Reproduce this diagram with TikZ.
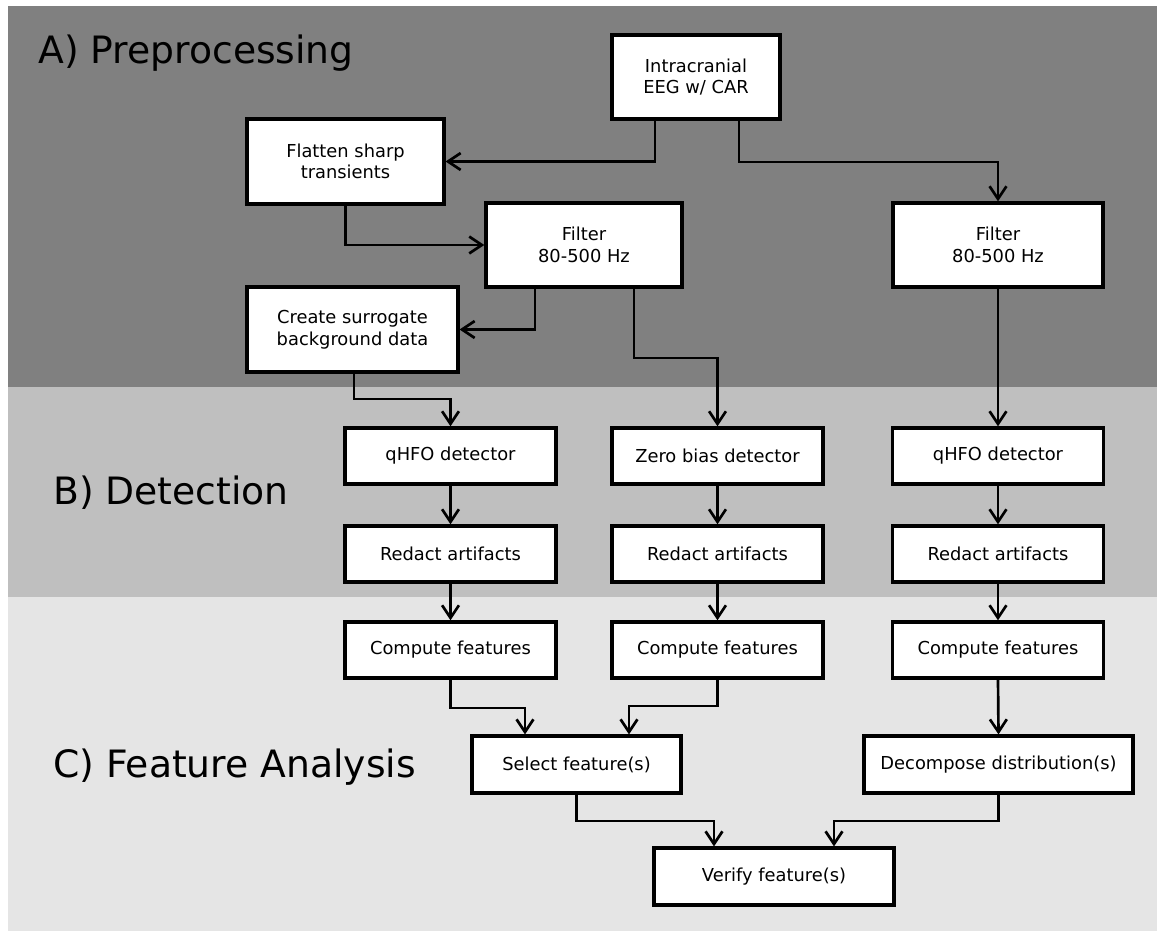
\documentclass[tikz,border=0pt]{standalone}
\usepackage{fontspec}
\setmainfont{DejaVu Sans}
\usepackage{xcolor}
\usepackage{tikz}
\definecolor{bandA}{RGB}{128, 128, 128}
\definecolor{bandB}{RGB}{191, 191, 191}
\definecolor{bandC}{RGB}{229, 229, 229}
\usetikzlibrary{arrows.meta, positioning, calc}

\begin{document}
\begin{tikzpicture}[
    x=0.025cm, y=-0.025cm,
    box/.style={rectangle, draw=black, fill=white, line width=2.4pt, align=center, inner sep=0pt, font=\fontsize{12.7}{15.4}\selectfont},
    stage/.style={anchor=base west, inner sep=0pt, font=\fontsize{26.8}{30}\selectfont},
    arr/.style={line width=1.9pt, -{Straight Barb[length=9pt, width=12pt]}}
]
    \useasboundingbox (0,0) rectangle (1157,931);

    % Stage bands
    \fill[bandA] (8,6) rectangle (1157,387);
    \fill[bandB] (8,387) rectangle (1157,597);
    \fill[bandC] (8,597) rectangle (1157,931);

    % Stage labels
    \node[stage] (labA) at (38,64) {A) Preprocessing};
    \node[stage] (labB) at (53,504) {B) Detection};
    \node[stage] (labC) at (53,777) {C) Feature Analysis};

    % Preprocessing
    \node[box, minimum width=4.2cm, minimum height=2.1cm] (eeg) at (696,77) {Intracranial\\EEG w/ CAR};
    \node[box, minimum width=4.92cm, minimum height=2.12cm] (flat) at (345.5,161.5) {Flatten sharp\\transients};
    \node[box, minimum width=4.9cm, minimum height=2.1cm] (filt1) at (584,245) {Filter\\80-500 Hz};
    \node[box, minimum width=5.25cm, minimum height=2.1cm] (filt2) at (998,245) {Filter\\80-500 Hz};
    \node[box, minimum width=5.27cm, minimum height=2.12cm] (surr) at (352.5,329.5) {Create surrogate\\background data};

    % Detection
    \node[box, minimum width=5.27cm, minimum height=1.4cm] (det1) at (450.5,456) {qHFO detector};
    \node[box, minimum width=5.27cm, minimum height=1.4cm] (det2) at (717.5,456) {Zero bias detector};
    \node[box, minimum width=5.27cm, minimum height=1.4cm] (det3) at (998,456) {qHFO detector};
    \foreach \c/\x in {1/450.5, 2/717.5, 3/998} {
        \node[box, minimum width=5.27cm, minimum height=1.4cm] (red\c) at (\x,554) {Redact artifacts};
        \node[box, minimum width=5.27cm, minimum height=1.4cm] (feat\c) at (\x,650) {Compute features};
    }

    % Feature analysis
    \node[box, minimum width=5.22cm, minimum height=1.42cm] (sel) at (576.5,764.5) {Select feature(s)};
    \node[box, minimum width=6.72cm, minimum height=1.42cm] (dec) at (998.5,764.5) {Decompose distribution(s)};
    \node[box, minimum width=6.0cm, minimum height=1.42cm] (ver) at (774,876.5) {Verify feature(s)};

    % Connectors
    \draw[arr] (655,0 |- eeg.south) |- (flat.east);
    \draw[arr] (739,0 |- eeg.south) -- (739,162) -| (filt2.north);
    \draw[arr] (flat.south) |- (filt1.west);
    \draw[arr] (535,0 |- filt1.south) |- (surr.east);
    \draw[arr] (634,0 |- filt1.south) -- (634,358) -| (det2.north);
    \draw[arr] (354,0 |- surr.south) -- (354,399) -| (det1.north);
    \draw[arr] (filt2.south) -- (det3.north);
    \foreach \c in {1,2,3} {
        \draw[arr] (det\c.south) -- (red\c.north);
        \draw[arr] (red\c.south) -- (feat\c.north);
    }
    \draw[arr] (feat1.south) |- (525,708) -- (525,0 |- sel.north);
    \draw[arr] (feat2.south) |- (629,706) -- (629,0 |- sel.north);
    \draw[arr] (feat3.south) -- (dec.north);
    \draw[arr] (sel.south) |- (714,821) -- (714,0 |- ver.north);
    \draw[arr] (dec.south) |- (834,821) -- (834,0 |- ver.north);
\end{tikzpicture}
\end{document}
